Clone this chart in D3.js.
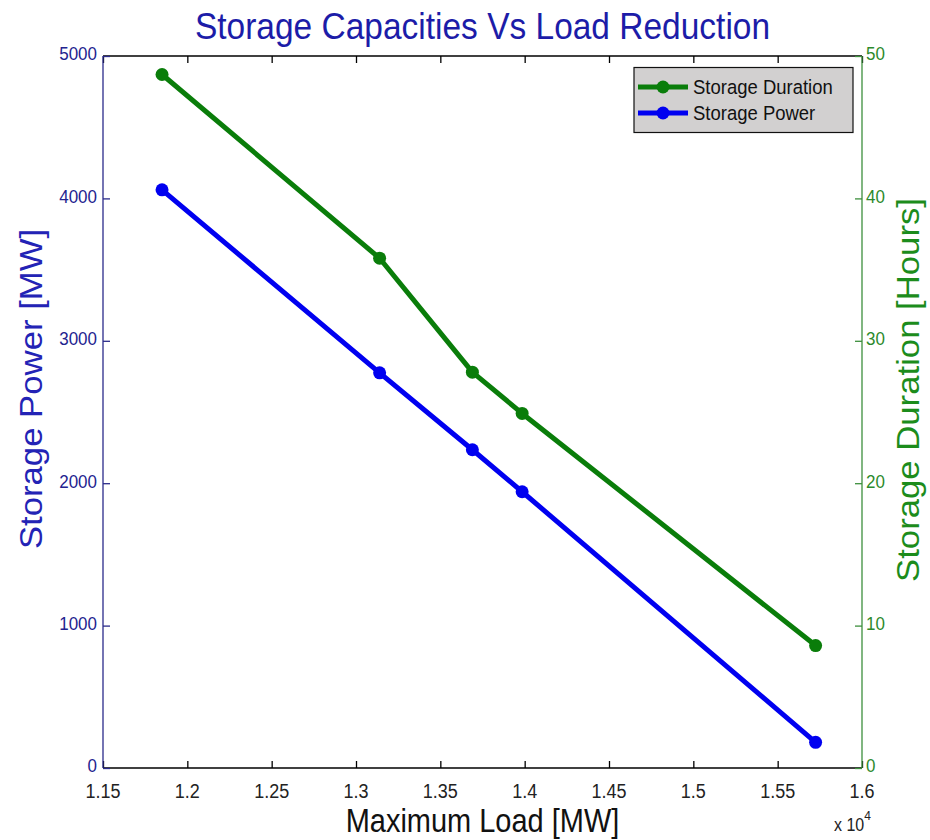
<!DOCTYPE html>
<html>
<head>
<meta charset="utf-8">
<script src="https://cdn.jsdelivr.net/npm/d3@7/dist/d3.min.js"></script>
<style>
  html, body { margin: 0; padding: 0; background: #fff; }
  svg text { font-family: "Liberation Sans", Arial, sans-serif; }
</style>
</head>
<body>
<svg id="chart" width="930" height="840"></svg>
<script>
// Maximum load after reduction (MW)
const maxLoad = [11850, 13140, 13690, 13985, 15725];
// Required storage power (MW)
const storagePower = [4060, 2775, 2235, 1940, 180];
// Required storage duration (hours)
const storageDuration = [48.7, 35.8, 27.8, 24.9, 8.6];

const xTicks = [11500, 12000, 12500, 13000, 13500, 14000, 14500, 15000, 15500, 16000];
const powerTicks = [0, 1000, 2000, 3000, 4000, 5000];
const durationTicks = [0, 10, 20, 30, 40, 50];

const seriesNames = ["Storage Duration", "Storage Power"];

const plot = { left: 103, right: 862, top: 56, bottom: 768 };

const blue = "#0000f0", green = "#0a7d0a";
const blueText = "#23238f", greenText = "#2c8a2c";

const svg = d3.select("#chart");

const x = d3.scaleLinear().domain([11500, 16000]).range([plot.left, plot.right]);
const yL = d3.scaleLinear().domain([0, 5000]).range([plot.bottom, plot.top]);
const yR = d3.scaleLinear().domain([0, 50]).range([plot.bottom, plot.top]);

const stretch = 1.12; // tall, narrow lettering

// axes (ticks point inward)
const fmtX = d => String(+(d / 10000).toFixed(2));
const xAxisB = d3.axisBottom(x).tickValues(xTicks).tickSize(-7).tickFormat("");
const xAxisT = d3.axisTop(x).tickValues(xTicks).tickSize(-7).tickFormat("");
const yAxisL = d3.axisLeft(yL).tickValues(powerTicks).tickSize(-7).tickFormat("");
const yAxisR = d3.axisRight(yR).tickValues(durationTicks).tickSize(-7).tickFormat("");

function styleAxis(g, color) {
  g.selectAll("path").attr("stroke", color).attr("stroke-width", 1.3);
  g.selectAll("line").attr("stroke", color).attr("stroke-width", 1.3);
}

svg.append("g").attr("transform", `translate(0,${plot.top})`).call(xAxisT).call(g => styleAxis(g, "#000"))
  .call(g => g.select("path").attr("d", `M${plot.left},0H${plot.right}`));
svg.append("g").attr("transform", `translate(0,${plot.bottom})`).call(xAxisB).call(g => styleAxis(g, "#000"))
  .call(g => g.select("path").attr("d", `M${plot.left},0H${plot.right}`));
svg.append("g").attr("transform", `translate(${plot.left},0)`).call(yAxisL).call(g => styleAxis(g, "#2a2a8a"))
  .call(g => g.select("path").attr("d", `M0,${plot.top}V${plot.bottom}`));
svg.append("g").attr("transform", `translate(${plot.right},0)`).call(yAxisR).call(g => styleAxis(g, "#3d8f3d"))
  .call(g => g.select("path").attr("d", `M0,${plot.top}V${plot.bottom}`));

// stretched text helper (vertical stretch in page space)
function label(px, py, str, size, color, anchor, rotate) {
  const g = svg.append("g").attr("transform", `translate(${px},${py}) scale(1,${stretch})`);
  g.append("text")
    .attr("transform", rotate ? `rotate(${rotate})` : null)
    .attr("text-anchor", anchor)
    .attr("dominant-baseline", "central")
    .attr("font-size", size)
    .attr("fill", color)
    .text(str);
  return g;
}

// tick labels
xTicks.forEach(t => label(x(t), 791, fmtX(t), 18, "#222", "middle"));
powerTicks.forEach(t => label(plot.left - 6, yL(t) - 2, t, 17, blueText, "end"));
durationTicks.forEach(t => label(plot.right + 4, yR(t) - 2, t, 17, greenText, "start"));

// exponent note
const ex = svg.append("g").attr("transform", `translate(834,825) scale(1,${stretch})`);
ex.append("text").attr("font-size", 16).attr("fill", "#222").attr("dominant-baseline", "central")
  .text("x 10").append("tspan").attr("dy", -9).attr("font-size", 12).text("4");

// titles
label((plot.left + plot.right) / 2, 26, "Storage Capacities Vs Load Reduction", 33.5, "#1c1ca8", "middle");
label((plot.left + plot.right) / 2, 821, "Maximum Load [MW]", 29, "#111", "middle");
label(31, 389, "Storage Power [MW]", 31, "#2323b5", "middle", -90);
label(908, 390, "Storage Duration [Hours]", 31, "#1c8c1c", "middle", -90);

// series
const rows = maxLoad.map((m, i) => ({ m, p: storagePower[i], d: storageDuration[i] }));

function drawSeries(yScale, key, color) {
  svg.append("path").datum(rows)
    .attr("fill", "none").attr("stroke", color).attr("stroke-width", 5)
    .attr("stroke-linejoin", "round")
    .attr("d", d3.line().x(r => x(r.m)).y(r => yScale(r[key])));
  svg.append("g").selectAll("circle").data(rows).join("circle")
    .attr("cx", r => x(r.m)).attr("cy", r => yScale(r[key])).attr("r", 6.5)
    .attr("fill", color);
}
drawSeries(yR, "d", green);
drawSeries(yL, "p", blue);

// legend
const lg = svg.append("g");
lg.append("rect").attr("x", 634).attr("y", 67.5).attr("width", 219).attr("height", 65)
  .attr("fill", "#d2d0d0").attr("stroke", "#111").attr("stroke-width", 1.2);
[[seriesNames[0], green, 87], [seriesNames[1], blue, 113]].forEach(([name, c, yy]) => {
  lg.append("line").attr("x1", 638).attr("x2", 688).attr("y1", yy).attr("y2", yy)
    .attr("stroke", c).attr("stroke-width", 5);
  lg.append("circle").attr("cx", 663).attr("cy", yy).attr("r", 6.5).attr("fill", c);
  const t = lg.append("g").attr("transform", `translate(693,${yy}) scale(1,${stretch})`);
  t.append("text").attr("font-size", 18.5).attr("fill", "#111")
    .attr("dominant-baseline", "central").text(name);
});
</script>
</body>
</html>
